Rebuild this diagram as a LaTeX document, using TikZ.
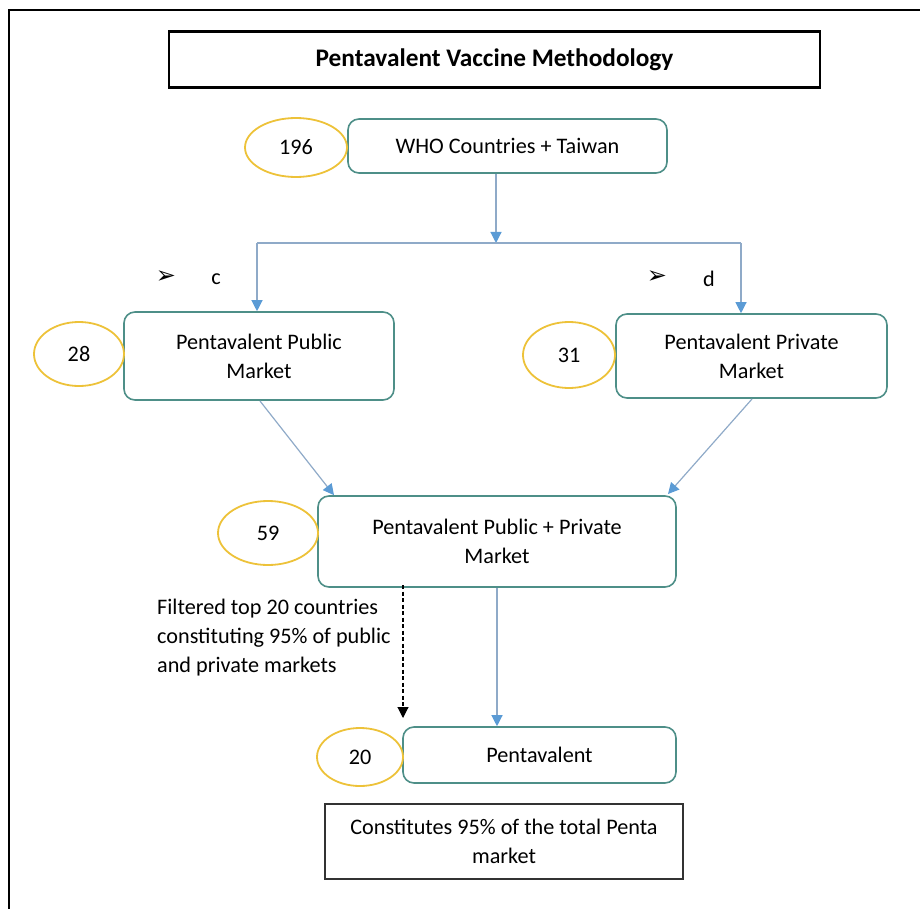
\documentclass[tikz,border=0pt]{standalone}
\usepackage{fontspec}
\setmainfont{Carlito}
\newfontfamily\symfont{DejaVu Sans}
\usetikzlibrary{arrows.meta,shapes.geometric}
\definecolor{teal box}{HTML}{4E8F88}
\definecolor{gold ring}{HTML}{EDC239}
\definecolor{link}{HTML}{8FAAC8}
\definecolor{tip}{HTML}{5B9BD5}
\tikzset{
  x=1pt, y=-1pt,
  every node/.style={font=\fontsize{22.2}{29}\selectfont, align=center, inner sep=0pt},
  stepbox/.style={draw=teal box, line width=1.6pt, rounded corners=11pt},
  count/.style={draw=gold ring, line width=1.8pt, ellipse},
  link/.style={draw=link, line width=1.2pt, -{Triangle[length=11pt,width=11pt,fill=tip,color=tip]}},
  dashlink/.style={draw=black, line width=1.1pt, dash pattern=on 4pt off 2.5pt, -{Triangle[length=11pt,width=11pt]}},
}
\begin{document}
\begin{tikzpicture}
\useasboundingbox (0,0) rectangle (920,909);
% page frame
\draw[line width=2.4pt] (9,909) -- (9,10) -- (920,10);

% title
\node[draw=black, line width=2.2pt, minimum width=651pt, minimum height=56pt, font=\fontsize{25.3}{28}\selectfont\bfseries] (title) at (494.5,59.5) {Pentavalent Vaccine Methodology};

% boxes
\node[stepbox, minimum width=319pt, minimum height=54pt] (who) at (507.5,146) {WHO Countries + Taiwan};
\node[count, minimum width=102pt, minimum height=59pt] (n196) at (296,147.5) {196};

\node[stepbox, minimum width=270pt, minimum height=88pt] (pub) at (259,356) {Pentavalent Public\\Market};
\node[count, minimum width=90pt, minimum height=64pt] (n28) at (79,354) {28};

\node[stepbox, minimum width=271pt, minimum height=84pt] (priv) at (751.5,356) {Pentavalent Private\\Market};
\node[count, minimum width=92pt, minimum height=66pt] (n31) at (569,355) {31};

\node[stepbox, minimum width=358pt, minimum height=91pt] (both) at (497,541.5) {Pentavalent Public + Private\\Market};
\node[count, minimum width=100pt, minimum height=64pt] (n59) at (268,533) {59};

\node[stepbox, minimum width=273pt, minimum height=56pt] (penta) at (539.5,755) {Pentavalent};
\node[count, minimum width=86pt, minimum height=58pt] (n20) at (360,757) {20};

\node[draw=black!80, line width=1.2pt, minimum width=358pt, minimum height=75pt] (note) at (504,841.5) {Constitutes 95\% of the total Penta\\market};

% side annotations
\node[anchor=north west, align=left] (filt) at (157,599) {Filtered top 20 countries\\constituting 95\% of public\\and private markets};
\node (arrc) at (166,277) {\symfont\fontsize{24}{26}\selectfont ➢};
\node (lblc) at (216,279) {c};
\node (arrd) at (657,277) {\symfont\fontsize{24}{26}\selectfont ➢};
\node (lbld) at (709,279) {d};

% connectors
\coordinate (split) at (496,243);
\draw[link] (who.south -| split) -- (split);
\draw[draw=link, line width=1.2pt] (257,243) -- (741,243);
\draw[link] (257,243) -- (pub.north -| 257,0);
\draw[link] (741,243) -- (priv.north -| 741,0);
\draw[link] (260,401) -- (both.north west -| 334,0);
\draw[link] (752,399) -- (668,494);
\draw[link] (both.south) -- (penta.north -| both.south);
\draw[dashlink] (403,585) -- (403,718);
\end{tikzpicture}
\end{document}
